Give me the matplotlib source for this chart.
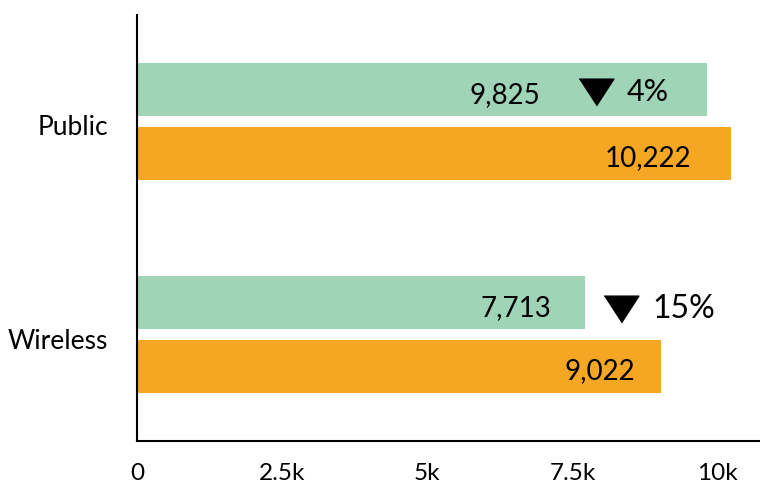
import matplotlib.pyplot as plt
import matplotlib.transforms as mtransforms
import numpy as np

plt.rcParams['font.family'] = ['Lato', 'DejaVu Sans']

categories = ["Wireless", "Public"]
current = [7713, 9825]
previous = [9022, 10222]

green = "#a0d4b7"
orange = "#f5a623"

fig = plt.figure(figsize=(7.6, 4.91), dpi=100)
ax = fig.add_axes([0.1803, 0.1018, 0.8197, 0.8677])

y = np.arange(len(categories))
h = 0.245
ax.barh(y + 0.15, current, height=h, color=green)
ax.barh(y - 0.15, previous, height=h, color=orange)

# label right edges (data units), placed by eye
green_lab = [7130, 6940]
orange_lab = [8580, 9540]
for i in range(len(categories)):
    ax.text(green_lab[i], y[i] + 0.125, f"{current[i]:,}", ha="right", va="center", fontsize=20)
    ax.text(orange_lab[i], y[i] - 0.17, f"{previous[i]:,}", ha="right", va="center", fontsize=20)

# change markers
tri = [(-1, 0.77), (1, 0.77), (0, -0.77)]
tri_x = [8340, 7900]
tri_dy = [0.12, 0.14]
pct_size = [23, 22]
for i in range(len(categories)):
    change = (current[i] - previous[i]) / previous[i] * 100
    ax.plot(tri_x[i], y[i] + tri_dy[i], marker=tri, ms=25, color="black", clip_on=False)
    ax.text(tri_x[i] + 530, y[i] + tri_dy[i], f"{abs(change):.0f}%", ha="left", va="center",
            fontsize=pct_size[i])

ax.set_xlim(0, 10730)
ax.set_ylim(-0.5, 1.5)
ax.set_xticks([0, 2500, 5000, 7500, 10000])
ax.set_xticklabels(["0", "2.5k", "5k", "7.5k", "10k"])
ax.set_yticks(y)
ax.set_yticklabels(categories)
ax.tick_params(axis="x", length=0, pad=16, labelsize=17.5)
ax.tick_params(axis="y", length=0, pad=21, labelsize=19)

shift = mtransforms.ScaledTranslation(0, -4 / 100, fig.dpi_scale_trans)
for lab in ax.get_yticklabels():
    lab.set_transform(lab.get_transform() + shift)

for s in ["top", "right"]:
    ax.spines[s].set_visible(False)
for s in ["left", "bottom"]:
    ax.spines[s].set_linewidth(1.5)

fig.savefig("out.png", dpi=100)
